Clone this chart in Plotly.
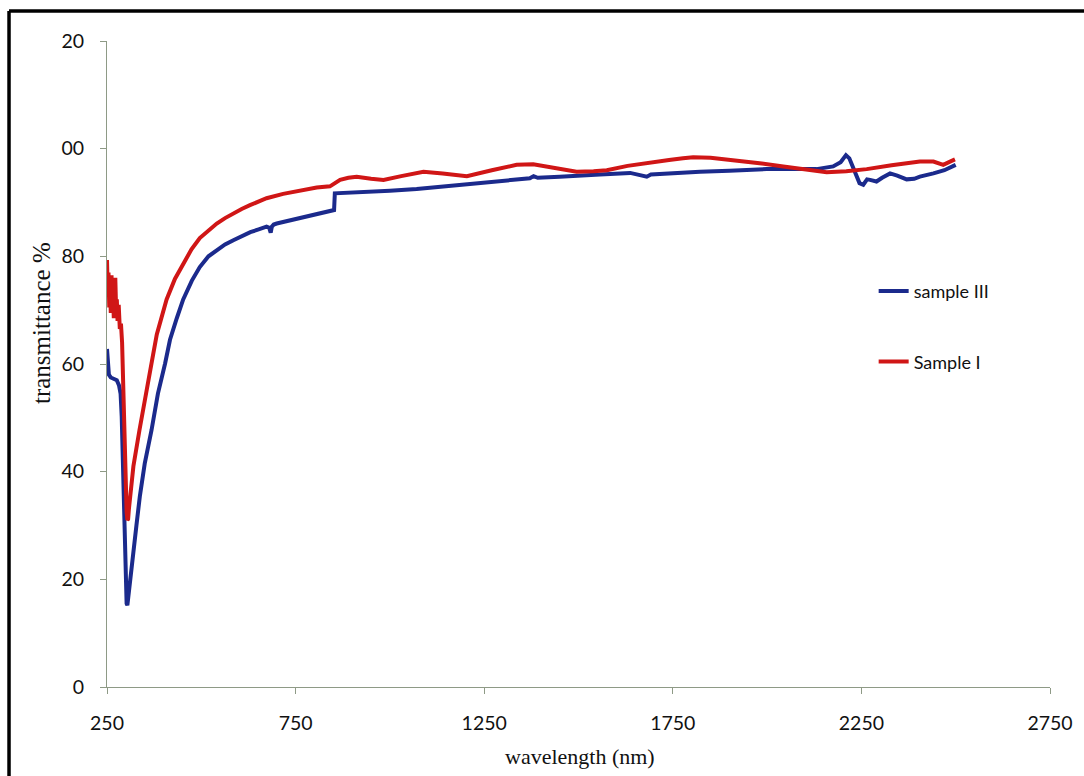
import plotly.graph_objects as go

# Wavelength (nm) and transmittance (%) of the two samples
wl_sample3 = [250, 252, 255, 260, 268, 276, 282, 286, 289, 291, 293, 296, 299, 302, 304,
              306, 310, 320, 328, 337, 350, 368, 385, 404, 417, 435, 452, 475, 496, 519,
              541, 563, 585, 607, 630, 652, 673, 680, 684, 687, 692, 700, 730, 762, 800,
              841, 852, 854, 900, 1000, 1071, 1200, 1300, 1371, 1381, 1392, 1450, 1512,
              1557, 1637, 1660, 1681, 1692, 1750, 1822, 1900, 1999, 2131, 2175, 2195, 2209,
              2218, 2230, 2245, 2255, 2265, 2273, 2290, 2305, 2326, 2345, 2370, 2390, 2405,
              2441, 2470, 2500]
tr_sample3 = [62.8, 61.5, 58.0, 57.5, 57.2, 57.0, 56.0, 54.5, 50.2, 44.0, 35.4, 27.0, 20.0,
              15.5, 15.2, 16.5, 19.5, 24.5, 30.0, 35.4, 41.5, 47.7, 54.5, 60.1, 64.5, 68.5,
              72.0, 75.5, 78.0, 80.0, 81.2, 82.2, 83.0, 83.8, 84.5, 85.0, 85.5, 85.3, 84.4,
              85.5, 85.9, 86.1, 86.6, 87.1, 87.6, 88.3, 88.6, 91.7, 91.8, 92.2, 92.5, 93.4,
              94.0, 94.5, 94.9, 94.6, 94.8, 95.1, 95.2, 95.5, 95.2, 94.8, 95.2, 95.5, 95.7,
              95.9, 96.2, 96.2, 96.7, 97.5, 98.8, 98.2, 96.0, 93.6, 93.3, 94.3, 94.2, 93.9,
              94.6, 95.4, 95.0, 94.3, 94.4, 94.8, 95.4, 96.0, 97.0]

wl_sample1 = [250, 252, 254, 256, 258, 260, 262, 264, 266, 268, 270, 272, 274, 276, 278,
              281, 284, 287, 290, 292, 294, 296, 298, 300, 302, 304, 306, 308, 311, 320,
              336, 350, 368, 382, 395, 408, 430, 452, 474, 496, 519, 541, 563, 585, 607,
              629, 651, 673, 717, 762, 806, 841, 850, 859, 868, 890, 912, 950, 983, 1030,
              1089, 1140, 1204, 1270, 1336, 1380, 1440, 1495, 1540, 1575, 1630, 1690, 1740,
              1777, 1804, 1850, 1910, 1980, 2043, 2100, 2158, 2210, 2264, 2330, 2405, 2441,
              2460, 2467, 2485, 2498]
tr_sample1 = [79.3, 73.5, 77.0, 70.5, 75.5, 69.5, 76.5, 70.0, 72.5, 68.5, 71.0, 76.0, 70.5,
              72.0, 68.0, 71.0, 66.5, 67.5, 64.0, 58.0, 51.0, 45.0, 40.0, 35.5, 32.5, 31.0,
              31.2, 33.0, 35.4, 41.0, 47.7, 53.5, 60.1, 65.5, 69.0, 72.0, 75.8, 78.7, 81.3,
              83.4, 84.9, 86.1, 87.1, 88.0, 88.8, 89.5, 90.2, 90.8, 91.6, 92.3, 92.8, 93.0,
              93.4, 93.9, 94.2, 94.6, 94.8, 94.4, 94.2, 94.9, 95.7, 95.4, 94.9, 96.0, 97.0,
              97.1, 96.4, 95.7, 95.8, 96.0, 96.8, 97.5, 97.9, 98.2, 98.4, 98.3, 97.9, 97.3,
              96.7, 96.1, 95.6, 95.8, 96.2, 96.9, 97.6, 97.6, 97.2, 97.0, 97.6, 98.0]

x_ticks = [250, 750, 1250, 1750, 2250, 2750]
y_ticks = [0, 20, 40, 60, 80, 100, 120]
y_tick_text = ["0", "20", "40", "60", "80", "00", "20"]

axis_color = "#8e9a86"
tick_font = dict(family="Lato, Open Sans, sans-serif", size=19.5, color="#111111")
x_title_font = dict(family="Liberation Serif, Times New Roman, serif", size=22, color="#111111")
y_title_font = dict(family="Liberation Serif, Times New Roman, serif", size=25, color="#111111")

fig = go.Figure()
fig.add_trace(go.Scatter(x=wl_sample3, y=tr_sample3, mode="lines", name="sample III",
                         legendgroup="s3",
                         line=dict(color="#1b2a8c", width=4)))
fig.add_trace(go.Scatter(x=wl_sample1, y=tr_sample1, mode="lines", name="Sample I",
                         legendgroup="s1",
                         line=dict(color="#d01616", width=4)))

fig.update_layout(
    width=1084, height=776,
    margin=dict(l=107, r=34, t=41, b=89),
    paper_bgcolor="white", plot_bgcolor="white",
    showlegend=True,
    legend=dict(x=0.813, y=0.641, xanchor="left", yanchor="top",
                font=dict(family="Lato, Open Sans, sans-serif", size=18, color="#111111"),
                tracegroupgap=44, bgcolor="rgba(0,0,0,0)", borderwidth=0),
    xaxis=dict(range=[250, 2750], tickvals=x_ticks, ticks="outside", ticklen=6,
               tickcolor=axis_color, showline=True, linecolor=axis_color, linewidth=1.2,
               showgrid=False, zeroline=False, tickfont=tick_font,
               ticklabelstandoff=12),
    yaxis=dict(range=[0, 120], tickvals=y_ticks, ticktext=y_tick_text, ticks="outside",
               ticklen=6, tickcolor=axis_color, showline=True, linecolor=axis_color,
               linewidth=1.2, showgrid=False, zeroline=False, tickfont=tick_font,
               ticklabelstandoff=12),
    annotations=[
        dict(text="wavelength (nm)", xref="paper", yref="paper", x=0.5016, y=-0.108,
             xanchor="center", yanchor="middle", showarrow=False, font=x_title_font),
        dict(text="transmittance %", xref="paper", yref="paper", x=-0.0689, y=0.5635,
             xanchor="center", yanchor="middle", textangle=-90, showarrow=False,
             font=y_title_font),
    ],
    shapes=[
        dict(type="line", xref="paper", yref="paper", x0=-0.1039, x1=-0.1039,
             y0=-0.2, y1=1.0464, line=dict(color="black", width=3.5)),
        dict(type="line", xref="paper", yref="paper", x0=-0.1039, x1=1.1,
             y0=1.0464, y1=1.0464, line=dict(color="black", width=3.5)),
    ],
)

fig.write_html("out.html")
